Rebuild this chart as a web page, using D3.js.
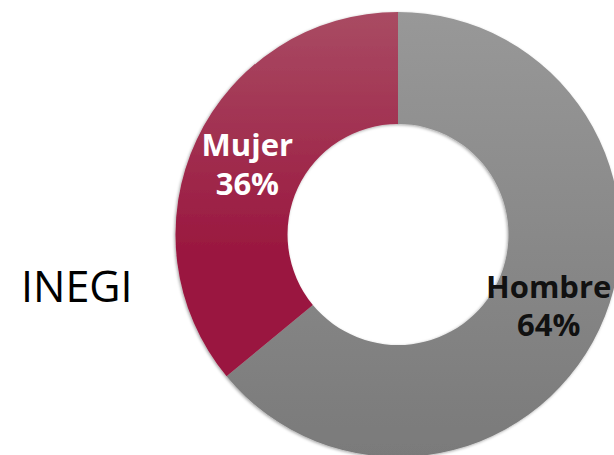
<!DOCTYPE html>
<html>
<head>
<meta charset="utf-8">
<script src="https://cdn.jsdelivr.net/npm/d3@7"></script>
<style>
  html, body { margin: 0; padding: 0; background: #fff; }
  svg { display: block; }
</style>
</head>
<body>
<div id="chart"></div>
<script>
// datos
var categorias = ["Hombre", "Mujer"];
var valores = [64, 36];
var etiquetas = ["64%", "36%"];
var fuente = "INEGI";

var
WIDTH = 614,
HEIGHT = 455,
CX = 398, CY = 234.5,
R_OUT = 222.5, R_IN = 110.5;

var colores = {
  "Hombre": ["#989898", "#7a7a7a"],
  "Mujer": ["#a94b63", "#9a173f"]
};
// fin del degradado, en coordenadas del grupo (centro = 0)
var finGrad = { "Hombre": R_OUT, "Mujer": 20 };
var colorTexto = { "Hombre": "#111", "Mujer": "#fff" };
var tamTexto = { "Hombre": 31, "Mujer": 31 };

var svg = d3.select("#chart")
  .append("svg")
  .attr("width", WIDTH)
  .attr("height", HEIGHT);

var defs = svg.append("defs");

// sombra suave del anillo
var f = defs.append("filter")
  .attr("id", "sombra")
  .attr("x", "-10%").attr("y", "-10%")
  .attr("width", "120%").attr("height", "120%");
f.append("feDropShadow")
  .attr("dx", -1).attr("dy", 1)
  .attr("stdDeviation", 1.5)
  .attr("flood-color", "#000")
  .attr("flood-opacity", 0.35);

categorias.forEach(function(c, i) {
  var g = defs.append("linearGradient")
    .attr("id", "grad" + i)
    .attr("gradientUnits", "userSpaceOnUse")
    .attr("x1", 0).attr("y1", -R_OUT)
    .attr("x2", 0).attr("y2", finGrad[c]);
  g.append("stop").attr("offset", "0%").attr("stop-color", colores[c][0]);
  g.append("stop").attr("offset", "100%").attr("stop-color", colores[c][1]);
});

var datos = categorias.map(function(c, i) {
  return { cat: c, valor: valores[i], etiqueta: etiquetas[i], idx: i };
});

var pie = d3.pie()
  .sort(null)
  .value(function(d) { return d.valor; });

var arc = d3.arc()
  .innerRadius(R_IN)
  .outerRadius(R_OUT);

var g = svg.append("g")
  .attr("transform", "translate(" + CX + "," + CY + ")");

g.append("g")
  .attr("filter", "url(#sombra)")
  .selectAll("path")
  .data(pie(datos))
  .enter()
  .append("path")
  .attr("d", arc)
  .attr("fill", function(d) { return "url(#grad" + d.data.idx + ")"; });

// las etiquetas van en el centroide de cada arco, dos lineas
var labels = g.selectAll("g.label")
  .data(pie(datos))
  .enter()
  .append("g")
  .attr("class", "label")
  .attr("font-family", "'Open Sans', sans-serif")
  .attr("font-weight", "bold")
  .attr("text-anchor", "middle")
  .attr("font-size", function(d) { return tamTexto[d.data.cat]; })
  .attr("fill", function(d) { return colorTexto[d.data.cat]; })
  .attr("transform", function(d) {
    var c = arc.centroid(d);
    return "translate(" + c[0] + "," + c[1] + ")";
  });

labels.append("text")
  .attr("y", -7.5)
  .text(function(d) { return d.data.cat; });
labels.append("text")
  .attr("y", 31)
  .text(function(d) { return d.data.etiqueta; });

svg.append("text")
  .attr("x", 21)
  .attr("y", 302)
  .attr("font-family", "'Open Sans', sans-serif")
  .attr("font-size", 43)
  .attr("fill", "#000")
  .text(fuente);
</script>
</body>
</html>
